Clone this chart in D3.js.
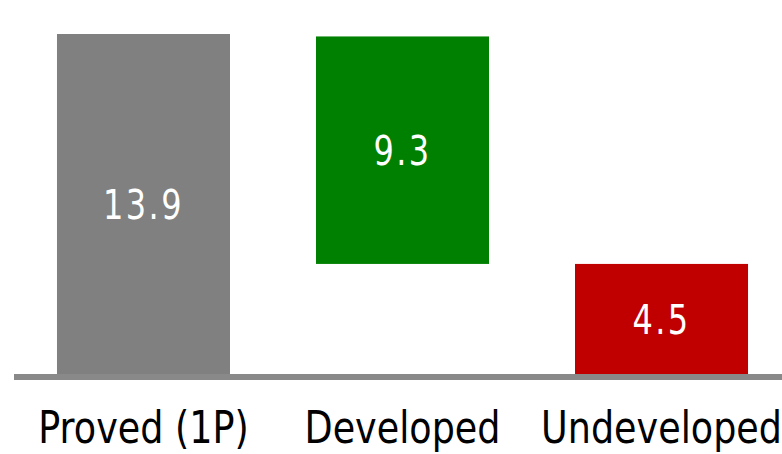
<!DOCTYPE html>
<html>
<head>
<meta charset="utf-8">
<script src="https://cdn.jsdelivr.net/npm/d3@7/dist/d3.min.js"></script>
<style>
  html, body { margin: 0; padding: 0; background: #fff; }
  svg { display: block; }
</style>
</head>
<body>
<svg id="chart" width="782" height="454"></svg>
<script>
// Reserve breakdown (waterfall): total, then its two components
const categories = ["Proved (1P)", "Developed", "Undeveloped"];
const values = [13.9, 9.3, 4.5];
const labels = ["13.9", "9.3", "4.5"];
const barColors = ["#808080", "#008000", "#c00000"];

// floating bases: total and last component sit on zero, the middle one stacks on the last
const bases = [0, values[2], 0];

const W = 782, H = 454;
const baseY = 374;

const svg = d3.select("#chart");

const x = d3.scaleBand()
  .domain(categories)
  .range([0, 805])
  .paddingInner(0.332)
  .paddingOuter(0.22);

const y = d3.scaleLinear()
  .domain([0, 13.9])
  .range([baseY, 34]);

const rows = categories.map((c, i) => ({
  cat: c, v: values[i], base: bases[i], label: labels[i], color: barColors[i]
}));

svg.selectAll("rect.bar")
  .data(rows)
  .enter().append("rect")
  .attr("class", "bar")
  .attr("x", d => x(d.cat))
  .attr("width", x.bandwidth())
  .attr("y", d => y(d.base + d.v))
  .attr("height", d => y(d.base) - y(d.base + d.v))
  .attr("fill", d => d.color);

// baseline
svg.append("rect")
  .attr("x", 14).attr("y", baseY)
  .attr("width", W - 14).attr("height", 6)
  .attr("fill", "#898989");

const FONT = "'DejaVu Sans', Verdana, sans-serif";

// value labels centred in each bar
svg.selectAll("text.val")
  .data(rows)
  .enter().append("text")
  .attr("class", "val")
  .attr("transform", d => {
    const cx = x(d.cat) + x.bandwidth() / 2;
    const cy = (y(d.base) + y(d.base + d.v)) / 2 + 15;
    return `translate(${cx},${cy}) scale(0.8,1)`;
  })
  .attr("text-anchor", "middle")
  .attr("font-family", FONT)
  .attr("font-size", 40)
  .attr("letter-spacing", 3)
  .attr("fill", "#ffffff")
  .text(d => d.label);

// category axis labels
svg.selectAll("text.cat")
  .data(rows)
  .enter().append("text")
  .attr("class", "cat")
  .attr("transform", d => `translate(${x(d.cat) + x.bandwidth() / 2},443) scale(0.83,1)`)
  .attr("text-anchor", "middle")
  .attr("font-family", FONT)
  .attr("font-size", 44)
  .attr("fill", "#000000")
  .text(d => d.cat);
</script>
</body>
</html>
